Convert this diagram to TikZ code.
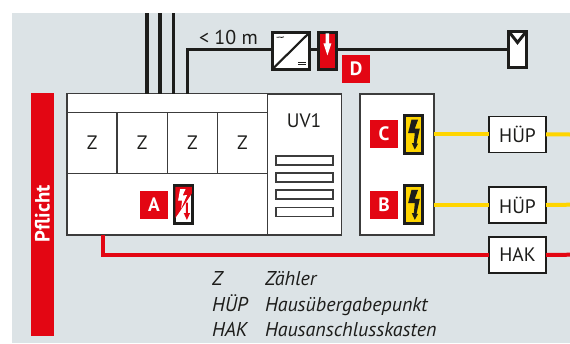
\documentclass[tikz,border=0pt]{standalone}
\usepackage{fontspec}
\setmainfont{PT Sans}
\definecolor{bgc}{HTML}{DCE3E6}
\definecolor{redc}{HTML}{E30613}
\definecolor{yelc}{HTML}{FFD500}
\definecolor{inkc}{HTML}{1D1D1B}
\definecolor{edgec}{HTML}{3C3C3C}
\newcommand{\yellowbolt}[1]{%
  \fill[inkc,shift={(#1.center)}] (-2.3,-14.7)--(4.3,-14.7)--(1,-5.7)--(6,-5.7)--(2.7,9.3)--(4.3,9.3)--(1,15.3)--(-2,8.7)--(0,8.7)--(1,-1.3)--(-5.7,-1.3)--cycle;}
\tikzset{
  every node/.style={inner sep=0pt,outer sep=0pt,text=inkc},
  wh/.style 2 args={minimum width=#1*0.75pt,minimum height=#2*0.75pt},
  box/.style={draw=edgec,line width=1.1pt,fill=white,rectangle},
  thin box/.style={draw=edgec,line width=1.05pt,fill=white,rectangle},
  slot/.style={draw=edgec,line width=1.25pt,fill=white,rectangle,wh={57}{9}},
  device/.style={draw=inkc,line width=2.2pt,fill=white,rectangle},
  sign/.style={draw=inkc,line width=2.2pt,fill=yelc,rectangle,wh={18}{37.5}},
  tag/.style={fill=redc,rectangle,wh={28}{28},text=white,font=\fontsize{14.5}{14.5}\selectfont\bfseries},
  txt/.style={font=\fontsize{14.6}{14.6}\selectfont},
  legend/.style={font=\fontsize{15}{15}\selectfont\itshape,anchor=base west},
  black line/.style={draw=inkc,line width=2.5pt},
  yellow line/.style={draw=yelc,line width=3pt},
  red line/.style={draw=redc,line width=3pt},
}
\begin{document}
\begin{tikzpicture}[x=0.75pt,y=-0.75pt]
\useasboundingbox (0,0) rectangle (570,343);
\fill[bgc] (12,13) rectangle (570,343);
% bar
\node[fill=redc,rectangle,wh={23}{243}] (bar) at (42.5,214.5) {};
\node[rotate=90,text=white,font=\fontsize{15.5}{15.5}\selectfont\bfseries] (pf) at (42.5,214) {Pflicht};
% coordinates for free ends
\coordinate (t1) at (147,13);
\coordinate (t2) at (160,13);
\coordinate (t3) at (173.7,13);
\coordinate (f4) at (187.4,94);
\coordinate (r0) at (102.8,235);
\coordinate (ye1) at (570,134.5);
\coordinate (ye2) at (570,204.7);
\coordinate (re1) at (570,254.7);
% main boxes
\node[box,wh={200.5}{141}] (main) at (167.25,164.5) {};
\node[box,wh={74}{141}] (uv) at (304.5,164.5) {};
\node[box,wh={74}{141}] (bc) at (397,164.5) {};
\node[thin box,wh={200.5}{18.5}] (top) at (167.25,103) {};
\node[thin box,txt,wh={50.125}{61}] (z1) at (92.06,142.8) {Z};
\node[thin box,txt,wh={50.125}{61}] (z2) at (142.19,142.8) {Z};
\node[thin box,txt,wh={50.125}{61}] (z3) at (192.31,142.8) {Z};
\node[thin box,txt,wh={50.125}{61}] (z4) at (242.44,142.8) {Z};
\node[txt] (uvt) at (304,120.5) {UV1};
\node[slot] (s1) at (304.3,160.2) {};
\node[slot] (s2) at (304.3,177.5) {};
\node[slot] (s3) at (304.3,194.8) {};
\node[slot] (s4) at (304.3,212) {};
% terminals
\node[box,txt,draw=inkc,wh={57}{36}] (h1) at (517.5,134.3) {HÜP};
\node[box,txt,draw=inkc,wh={57}{36}] (h2) at (517.5,205) {HÜP};
\node[box,txt,draw=inkc,wh={57}{36}] (hak) at (517.5,255) {HAK};
% PV devices
\node[device,wh={37}{36.5}] (inv) at (291,50.8) {};
\node[device,fill=redc,wh={18}{36.5}] (spd) at (327.4,50.8) {};
\node[device,wh={17.5}{36.5}] (mod) at (517.5,49.5) {};
% connectors
\draw[black line] (t1) -- (t1 |- main.north);
\draw[black line] (t2) -- (t2 |- main.north);
\draw[black line] (t3) -- (t3 |- main.north);
\draw[black line] (f4) |- (inv.west |- mod.west);
\draw[black line] (inv.east |- mod.west) -- (spd.west |- mod.west);
\draw[black line] (spd.east |- mod.west) -- (mod.west);
\draw[yellow line] (bc.east |- h1.west) -- (h1.west);
\draw[yellow line] (h1.east) -- (ye1);
\draw[yellow line] (bc.east |- h2.west) -- (h2.west);
\draw[yellow line] (h2.east) -- (ye2);
\draw[red line] (r0) |- (hak.west);
\draw[red line] (hak.east) -- (re1);
% inverter symbols
\draw[inkc,line width=1.6pt] (inv.south west) -- (inv.north east);
\draw[inkc,line width=0.6pt,shift={(inv.center)}] (-14.5,-13.5) .. controls (-12,-15.5) and (-10.5,-12) .. (-7,-14);
\draw[inkc,line width=0.7pt,shift={(inv.center)}] (7,11.5) -- (15,11.5) (7,14) -- (15,14);
% SPD arrow
\fill[white,shift={(spd.center)}] (-1.7,-17.5) -- (1.7,-17.5) -- (1.7,-7.5) -- (4,-7.5) -- (0,4.5) -- (-4,-7.5) -- (-1.7,-7.5) -- cycle;
% module V
\draw[inkc,line width=2.2pt,shift={(mod.center)}] (-8.7,-18) -- (0,-7) -- (8.7,-18);
% tags
\node[tag] (D) at (356,69) {D};
\node[tag] (C) at (384,134) {C};
\node[tag] (B) at (384,205) {B};
\node[tag] (A) at (154,205) {A};
% signs
\node[sign] (sc) at (413.8,134.3) {};
\node[sign] (sb) at (413.8,204.5) {};
\node[sign,fill=white] (sa) at (183.6,204.5) {};
\yellowbolt{sc}
\yellowbolt{sb}
\begin{scope}[shift={(sa.center)}]
\fill[redc] (-8.2,-17.7) -- (8.2,-17.7) -- (8.2,-11) -- (-8.2,13.5) -- cycle;
\fill[white] (-3.5,-15.5) -- (2,-15.5) -- (-1,-9) -- (3.5,-9.5) -- (-2.5,4) -- (-1.5,-4) -- (-5.5,-4) -- cycle;
\fill[redc] (2.3,-2) -- (4.3,-2) -- (4.3,8.5) -- (6.5,8.5) -- (3.3,15.5) -- (0.1,8.5) -- (2.3,8.5) -- cycle;
\end{scope}
% texts
\node[font=\fontsize{15}{15}\selectfont,anchor=base west] (dist) at (199,44.3) {< 10 m};
\node[legend] (l1a) at (212,285.5) {Z};
\node[legend] (l1b) at (265,285.5) {Zähler};
\node[legend] (l2a) at (212,311) {HÜP};
\node[legend] (l2b) at (265,311) {Hausübergabepunkt};
\node[legend] (l3a) at (212,336.5) {HAK};
\node[legend] (l3b) at (265,336.5) {Hausanschlusskasten};
\end{tikzpicture}
\end{document}
